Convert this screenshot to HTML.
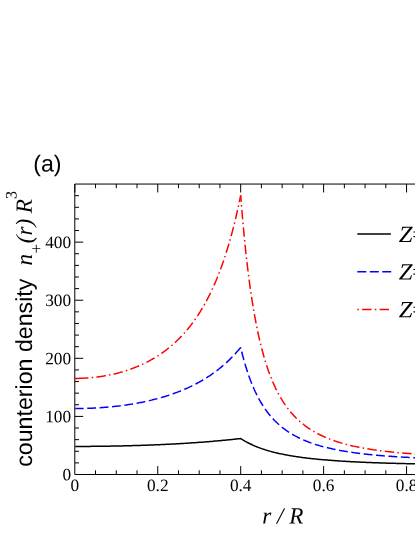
<!DOCTYPE html>
<html><head><meta charset="utf-8"><title>fig</title>
<style>
html,body{margin:0;padding:0;background:#fff;}
body{width:415px;height:537px;overflow:hidden;}
svg{display:block;will-change:transform;}
.se{font-family:"Liberation Serif",serif;}
.sa{font-family:"Liberation Sans",sans-serif;}
</style></head><body>
<svg width="415" height="537" viewBox="0 0 415 537">
<rect width="415" height="537" fill="#fff"/>
<!-- curves -->
<clipPath id="cp"><rect x="75.25" y="180" width="345" height="300"/></clipPath>
<g fill="none" stroke-width="1.5" stroke-linejoin="bevel" clip-path="url(#cp)">
<path d="M74.80,446.43 L75.84,446.43 L76.87,446.43 L77.91,446.43 L78.95,446.43 L79.98,446.43 L81.02,446.42 L82.06,446.42 L83.09,446.42 L84.13,446.41 L85.17,446.41 L86.20,446.40 L87.24,446.40 L88.28,446.39 L89.31,446.38 L90.35,446.38 L91.39,446.37 L92.42,446.36 L93.46,446.35 L94.50,446.34 L95.53,446.33 L96.57,446.32 L97.61,446.31 L98.65,446.30 L99.68,446.29 L100.72,446.27 L101.76,446.26 L102.79,446.25 L103.83,446.23 L104.87,446.22 L105.90,446.20 L106.94,446.19 L107.98,446.17 L109.01,446.16 L110.05,446.14 L111.09,446.12 L112.12,446.10 L113.16,446.08 L114.20,446.06 L115.23,446.04 L116.27,446.02 L117.31,446.00 L118.34,445.98 L119.38,445.96 L120.42,445.94 L121.45,445.91 L122.49,445.89 L123.53,445.86 L124.56,445.84 L125.60,445.81 L126.64,445.79 L127.67,445.76 L128.71,445.73 L129.75,445.71 L130.78,445.68 L131.82,445.65 L132.86,445.62 L133.89,445.59 L134.93,445.56 L135.97,445.53 L137.00,445.50 L138.04,445.46 L139.08,445.43 L140.12,445.40 L141.15,445.36 L142.19,445.33 L143.23,445.29 L144.26,445.26 L145.30,445.22 L146.34,445.18 L147.37,445.15 L148.41,445.11 L149.45,445.07 L150.48,445.03 L151.52,444.99 L152.56,444.95 L153.59,444.91 L154.63,444.86 L155.67,444.82 L156.70,444.78 L157.74,444.73 L158.78,444.69 L159.81,444.64 L160.85,444.60 L161.89,444.55 L162.92,444.50 L163.96,444.45 L165.00,444.41 L166.03,444.36 L167.07,444.31 L168.11,444.25 L169.14,444.20 L170.18,444.15 L171.22,444.10 L172.25,444.04 L173.29,443.99 L174.33,443.93 L175.36,443.88 L176.40,443.82 L177.44,443.76 L178.47,443.70 L179.51,443.64 L180.55,443.58 L181.59,443.52 L182.62,443.46 L183.66,443.40 L184.70,443.34 L185.73,443.27 L186.77,443.21 L187.81,443.14 L188.84,443.08 L189.88,443.01 L190.92,442.94 L191.95,442.87 L192.99,442.80 L194.03,442.73 L195.06,442.66 L196.10,442.59 L197.14,442.51 L198.17,442.44 L199.21,442.36 L200.25,442.29 L201.28,442.21 L202.32,442.13 L203.36,442.06 L204.39,441.98 L205.43,441.89 L206.47,441.81 L207.50,441.73 L208.54,441.65 L209.58,441.56 L210.61,441.48 L211.65,441.39 L212.69,441.30 L213.72,441.21 L214.76,441.12 L215.80,441.03 L216.83,440.94 L217.87,440.85 L218.91,440.75 L219.94,440.66 L220.98,440.56 L222.02,440.47 L223.06,440.37 L224.09,440.27 L225.13,440.17 L226.17,440.06 L227.20,439.96 L228.24,439.86 L229.28,439.75 L230.31,439.64 L231.35,439.54 L232.39,439.43 L233.42,439.32 L234.46,439.20 L235.50,439.09 L236.53,438.98 L237.57,438.86 L238.61,438.74 L239.64,438.63 L240.68,438.51 L241.72,439.18 L242.75,439.82 L243.79,440.45 L244.83,441.05 L245.86,441.64 L246.90,442.21 L247.94,442.75 L248.97,443.28 L250.01,443.80 L251.05,444.29 L252.08,444.78 L253.12,445.24 L254.16,445.69 L255.19,446.13 L256.23,446.56 L257.27,446.97 L258.30,447.37 L259.34,447.76 L260.38,448.14 L261.42,448.51 L262.45,448.87 L263.49,449.21 L264.53,449.55 L265.56,449.88 L266.60,450.20 L267.64,450.51 L268.67,450.81 L269.71,451.11 L270.75,451.39 L271.78,451.67 L272.82,451.94 L273.86,452.21 L274.89,452.47 L275.93,452.72 L276.97,452.96 L278.00,453.20 L279.04,453.44 L280.08,453.66 L281.11,453.88 L282.15,454.10 L283.19,454.31 L284.22,454.52 L285.26,454.72 L286.30,454.92 L287.33,455.11 L288.37,455.30 L289.41,455.48 L290.44,455.66 L291.48,455.84 L292.52,456.01 L293.55,456.17 L294.59,456.34 L295.63,456.50 L296.66,456.66 L297.70,456.81 L298.74,456.96 L299.77,457.11 L300.81,457.25 L301.85,457.39 L302.88,457.53 L303.92,457.66 L304.96,457.79 L306.00,457.92 L307.03,458.05 L308.07,458.17 L309.11,458.29 L310.14,458.41 L311.18,458.53 L312.22,458.64 L313.25,458.76 L314.29,458.87 L315.33,458.97 L316.36,459.08 L317.40,459.18 L318.44,459.28 L319.47,459.38 L320.51,459.48 L321.55,459.58 L322.58,459.67 L323.62,459.76 L324.66,459.85 L325.69,459.94 L326.73,460.03 L327.77,460.11 L328.80,460.20 L329.84,460.28 L330.88,460.36 L331.91,460.44 L332.95,460.52 L333.99,460.59 L335.02,460.67 L336.06,460.74 L337.10,460.81 L338.13,460.88 L339.17,460.95 L340.21,461.02 L341.24,461.09 L342.28,461.15 L343.32,461.22 L344.36,461.28 L345.39,461.34 L346.43,461.41 L347.47,461.47 L348.50,461.53 L349.54,461.58 L350.58,461.64 L351.61,461.70 L352.65,461.75 L353.69,461.81 L354.72,461.86 L355.76,461.91 L356.80,461.96 L357.83,462.01 L358.87,462.06 L359.91,462.11 L360.94,462.16 L361.98,462.21 L363.02,462.25 L364.05,462.30 L365.09,462.34 L366.13,462.39 L367.16,462.43 L368.20,462.47 L369.24,462.52 L370.27,462.56 L371.31,462.60 L372.35,462.64 L373.38,462.68 L374.42,462.72 L375.46,462.75 L376.49,462.79 L377.53,462.83 L378.57,462.86 L379.60,462.90 L380.64,462.93 L381.68,462.97 L382.71,463.00 L383.75,463.03 L384.79,463.07 L385.82,463.10 L386.86,463.13 L387.90,463.16 L388.94,463.19 L389.97,463.22 L391.01,463.25 L392.05,463.28 L393.08,463.30 L394.12,463.33 L395.16,463.36 L396.19,463.39 L397.23,463.41 L398.27,463.44 L399.30,463.46 L400.34,463.49 L401.38,463.51 L402.41,463.54 L403.45,463.56 L404.49,463.58 L405.52,463.61 L406.56,463.63 L407.60,463.65 L408.63,463.67 L409.67,463.69 L410.71,463.71 L411.74,463.73 L412.78,463.75 L413.82,463.77 L414.85,463.79 L415.89,463.81 L416.93,463.83 L417.96,463.85 L419.00,463.86 L420.04,463.88 L421.07,463.90 L422.11,463.91 L423.15,463.93" stroke="#000"/>
<path d="M74.80,408.55 L75.84,408.55 L76.87,408.54 L77.91,408.54 L78.95,408.53 L79.98,408.51 L81.02,408.50 L82.06,408.48 L83.09,408.46 L84.13,408.44 L85.17,408.41 L86.20,408.38 L87.24,408.35 L88.28,408.31 L89.31,408.27 L90.35,408.23 L91.39,408.19 L92.42,408.14 L93.46,408.09 L94.50,408.04 L95.53,407.98 L96.57,407.93 L97.61,407.87 L98.65,407.80 L99.68,407.73 L100.72,407.66 L101.76,407.59 L102.79,407.52 L103.83,407.44 L104.87,407.35 L105.90,407.27 L106.94,407.18 L107.98,407.09 L109.01,407.00 L110.05,406.90 L111.09,406.80 L112.12,406.69 L113.16,406.59 L114.20,406.48 L115.23,406.36 L116.27,406.25 L117.31,406.13 L118.34,406.00 L119.38,405.88 L120.42,405.75 L121.45,405.61 L122.49,405.48 L123.53,405.34 L124.56,405.19 L125.60,405.05 L126.64,404.90 L127.67,404.74 L128.71,404.58 L129.75,404.42 L130.78,404.26 L131.82,404.09 L132.86,403.91 L133.89,403.74 L134.93,403.56 L135.97,403.37 L137.00,403.18 L138.04,402.99 L139.08,402.80 L140.12,402.59 L141.15,402.39 L142.19,402.18 L143.23,401.97 L144.26,401.75 L145.30,401.53 L146.34,401.30 L147.37,401.07 L148.41,400.84 L149.45,400.60 L150.48,400.36 L151.52,400.11 L152.56,399.85 L153.59,399.59 L154.63,399.33 L155.67,399.06 L156.70,398.79 L157.74,398.51 L158.78,398.23 L159.81,397.94 L160.85,397.65 L161.89,397.35 L162.92,397.04 L163.96,396.73 L165.00,396.42 L166.03,396.09 L167.07,395.77 L168.11,395.43 L169.14,395.09 L170.18,394.75 L171.22,394.39 L172.25,394.04 L173.29,393.67 L174.33,393.30 L175.36,392.92 L176.40,392.54 L177.44,392.15 L178.47,391.75 L179.51,391.34 L180.55,390.93 L181.59,390.51 L182.62,390.08 L183.66,389.65 L184.70,389.20 L185.73,388.75 L186.77,388.29 L187.81,387.82 L188.84,387.35 L189.88,386.86 L190.92,386.37 L191.95,385.87 L192.99,385.36 L194.03,384.83 L195.06,384.30 L196.10,383.76 L197.14,383.22 L198.17,382.66 L199.21,382.09 L200.25,381.50 L201.28,380.91 L202.32,380.31 L203.36,379.70 L204.39,379.07 L205.43,378.44 L206.47,377.79 L207.50,377.13 L208.54,376.46 L209.58,375.77 L210.61,375.07 L211.65,374.36 L212.69,373.63 L213.72,372.89 L214.76,372.14 L215.80,371.37 L216.83,370.59 L217.87,369.79 L218.91,368.97 L219.94,368.14 L220.98,367.30 L222.02,366.43 L223.06,365.55 L224.09,364.65 L225.13,363.74 L226.17,362.80 L227.20,361.85 L228.24,360.87 L229.28,359.88 L230.31,358.86 L231.35,357.82 L232.39,356.77 L233.42,355.68 L234.46,354.58 L235.50,353.45 L236.53,352.30 L237.57,351.12 L238.61,349.92 L239.64,348.69 L240.68,347.44" stroke="#0000ff" stroke-dasharray="8.85 3.58"/>
<path d="M240.68,347.44 L241.72,351.72 L242.75,355.78 L243.79,359.63 L244.83,363.29 L245.86,366.77 L246.90,370.08 L247.94,373.22 L248.97,376.22 L250.01,379.08 L251.05,381.80 L252.08,384.40 L253.12,386.89 L254.16,389.26 L255.19,391.53 L256.23,393.70 L257.27,395.78 L258.30,397.77 L259.34,399.67 L260.38,401.50 L261.42,403.26 L262.45,404.94 L263.49,406.56 L264.53,408.12 L265.56,409.61 L266.60,411.05 L267.64,412.43 L268.67,413.76 L269.71,415.04 L270.75,416.28 L271.78,417.47 L272.82,418.61 L273.86,419.72 L274.89,420.79 L275.93,421.82 L276.97,422.82 L278.00,423.78 L279.04,424.71 L280.08,425.61 L281.11,426.48 L282.15,427.32 L283.19,428.14 L284.22,428.92 L285.26,429.69 L286.30,430.43 L287.33,431.14 L288.37,431.84 L289.41,432.51 L290.44,433.17 L291.48,433.80 L292.52,434.41 L293.55,435.01 L294.59,435.59 L295.63,436.15 L296.66,436.70 L297.70,437.23 L298.74,437.75 L299.77,438.25 L300.81,438.74 L301.85,439.21 L302.88,439.68 L303.92,440.13 L304.96,440.56 L306.00,440.99 L307.03,441.40 L308.07,441.81 L309.11,442.20 L310.14,442.58 L311.18,442.96 L312.22,443.32 L313.25,443.68 L314.29,444.02 L315.33,444.36 L316.36,444.69 L317.40,445.01 L318.44,445.32 L319.47,445.63 L320.51,445.93 L321.55,446.22 L322.58,446.50 L323.62,446.78 L324.66,447.05 L325.69,447.32 L326.73,447.57 L327.77,447.83 L328.80,448.07 L329.84,448.32 L330.88,448.55 L331.91,448.78 L332.95,449.01 L333.99,449.23 L335.02,449.45 L336.06,449.66 L337.10,449.86 L338.13,450.06 L339.17,450.26 L340.21,450.46 L341.24,450.64 L342.28,450.83 L343.32,451.01 L344.36,451.19 L345.39,451.36 L346.43,451.53 L347.47,451.70 L348.50,451.86 L349.54,452.02 L350.58,452.18 L351.61,452.33 L352.65,452.48 L353.69,452.63 L354.72,452.77 L355.76,452.91 L356.80,453.05 L357.83,453.19 L358.87,453.32 L359.91,453.45 L360.94,453.58 L361.98,453.70 L363.02,453.83 L364.05,453.95 L365.09,454.06 L366.13,454.18 L367.16,454.29 L368.20,454.40 L369.24,454.51 L370.27,454.62 L371.31,454.73 L372.35,454.83 L373.38,454.93 L374.42,455.03 L375.46,455.12 L376.49,455.22 L377.53,455.31 L378.57,455.40 L379.60,455.49 L380.64,455.58 L381.68,455.67 L382.71,455.75 L383.75,455.84 L384.79,455.92 L385.82,456.00 L386.86,456.08 L387.90,456.15 L388.94,456.23 L389.97,456.30 L391.01,456.37 L392.05,456.45 L393.08,456.52 L394.12,456.58 L395.16,456.65 L396.19,456.72 L397.23,456.78 L398.27,456.84 L399.30,456.91 L400.34,456.97 L401.38,457.03 L402.41,457.09 L403.45,457.14 L404.49,457.20 L405.52,457.26 L406.56,457.31 L407.60,457.36 L408.63,457.41 L409.67,457.46 L410.71,457.51 L411.74,457.56 L412.78,457.61 L413.82,457.66 L414.85,457.70 L415.89,457.75 L416.93,457.79 L417.96,457.84 L419.00,457.88 L420.04,457.92 L421.07,457.96 L422.11,458.00 L423.15,458.04" stroke="#0000ff" stroke-dasharray="8.85 3.6" stroke-dashoffset="8.2"/>
<path d="M74.80,378.39 L75.84,378.38 L76.87,378.37 L77.91,378.36 L78.95,378.34 L79.98,378.31 L81.02,378.28 L82.06,378.24 L83.09,378.20 L84.13,378.14 L85.17,378.09 L86.20,378.03 L87.24,377.96 L88.28,377.88 L89.31,377.80 L90.35,377.71 L91.39,377.62 L92.42,377.52 L93.46,377.42 L94.50,377.30 L95.53,377.18 L96.57,377.06 L97.61,376.93 L98.65,376.79 L99.68,376.65 L100.72,376.50 L101.76,376.34 L102.79,376.18 L103.83,376.01 L104.87,375.83 L105.90,375.65 L106.94,375.46 L107.98,375.26 L109.01,375.06 L110.05,374.85 L111.09,374.63 L112.12,374.41 L113.16,374.17 L114.20,373.93 L115.23,373.69 L116.27,373.43 L117.31,373.17 L118.34,372.90 L119.38,372.63 L120.42,372.34 L121.45,372.05 L122.49,371.75 L123.53,371.44 L124.56,371.13 L125.60,370.80 L126.64,370.47 L127.67,370.13 L128.71,369.78 L129.75,369.42 L130.78,369.05 L131.82,368.67 L132.86,368.29 L133.89,367.89 L134.93,367.49 L135.97,367.07 L137.00,366.65 L138.04,366.21 L139.08,365.77 L140.12,365.32 L141.15,364.85 L142.19,364.38 L143.23,363.89 L144.26,363.39 L145.30,362.89 L146.34,362.37 L147.37,361.84 L148.41,361.29 L149.45,360.74 L150.48,360.17 L151.52,359.60 L152.56,359.00 L153.59,358.40 L154.63,357.78 L155.67,357.15 L156.70,356.51 L157.74,355.85 L158.78,355.17 L159.81,354.49 L160.85,353.78 L161.89,353.07 L162.92,352.33 L163.96,351.59 L165.00,350.82 L166.03,350.04 L167.07,349.24 L168.11,348.42 L169.14,347.59 L170.18,346.74 L171.22,345.87 L172.25,344.98 L173.29,344.07 L174.33,343.14 L175.36,342.19 L176.40,341.22 L177.44,340.23 L178.47,339.21 L179.51,338.17 L180.55,337.11 L181.59,336.03 L182.62,334.92 L183.66,333.79 L184.70,332.63 L185.73,331.45 L186.77,330.23 L187.81,328.99 L188.84,327.72 L189.88,326.42 L190.92,325.10 L191.95,323.74 L192.99,322.34 L194.03,320.92 L195.06,319.46 L196.10,317.96 L197.14,316.43 L198.17,314.87 L199.21,313.26 L200.25,311.62 L201.28,309.93 L202.32,308.20 L203.36,306.43 L204.39,304.61 L205.43,302.75 L206.47,300.84 L207.50,298.88 L208.54,296.87 L209.58,294.81 L210.61,292.69 L211.65,290.52 L212.69,288.28 L213.72,285.99 L214.76,283.64 L215.80,281.22 L216.83,278.73 L217.87,276.17 L218.91,273.54 L219.94,270.84 L220.98,268.06 L222.02,265.19 L223.06,262.25 L224.09,259.21 L225.13,256.09 L226.17,252.87 L227.20,249.55 L228.24,246.13 L229.28,242.60 L230.31,238.97 L231.35,235.21 L232.39,231.34 L233.42,227.34 L234.46,223.20 L235.50,218.93 L236.53,214.52 L237.57,209.96 L238.61,205.23 L239.64,200.35 L240.68,195.29" stroke="#ff0000" stroke-dasharray="1.5 3.27 9.39 3.27" stroke-dashoffset="0.5"/>
<path d="M240.68,195.29 L241.72,208.36 L242.75,220.53 L243.79,231.89 L244.83,242.51 L245.86,252.44 L246.90,261.75 L247.94,270.47 L248.97,278.67 L250.01,286.37 L251.05,293.62 L252.08,300.45 L253.12,306.89 L254.16,312.97 L255.19,318.72 L256.23,324.15 L257.27,329.30 L258.30,334.17 L259.34,338.79 L260.38,343.18 L261.42,347.34 L262.45,351.30 L263.49,355.07 L264.53,358.65 L265.56,362.07 L266.60,365.33 L267.64,368.43 L268.67,371.40 L269.71,374.23 L270.75,376.93 L271.78,379.52 L272.82,382.00 L273.86,384.37 L274.89,386.64 L275.93,388.82 L276.97,390.91 L278.00,392.91 L279.04,394.84 L280.08,396.68 L281.11,398.46 L282.15,400.17 L283.19,401.81 L284.22,403.39 L285.26,404.91 L286.30,406.37 L287.33,407.78 L288.37,409.15 L289.41,410.46 L290.44,411.72 L291.48,412.94 L292.52,414.12 L293.55,415.26 L294.59,416.36 L295.63,417.43 L296.66,418.46 L297.70,419.45 L298.74,420.41 L299.77,421.34 L300.81,422.24 L301.85,423.12 L302.88,423.96 L303.92,424.78 L304.96,425.58 L306.00,426.35 L307.03,427.09 L308.07,427.82 L309.11,428.52 L310.14,429.21 L311.18,429.87 L312.22,430.51 L313.25,431.14 L314.29,431.74 L315.33,432.33 L316.36,432.91 L317.40,433.47 L318.44,434.01 L319.47,434.54 L320.51,435.05 L321.55,435.55 L322.58,436.04 L323.62,436.51 L324.66,436.97 L325.69,437.42 L326.73,437.86 L327.77,438.28 L328.80,438.70 L329.84,439.10 L330.88,439.50 L331.91,439.88 L332.95,440.26 L333.99,440.62 L335.02,440.98 L336.06,441.33 L337.10,441.67 L338.13,442.00 L339.17,442.32 L340.21,442.64 L341.24,442.95 L342.28,443.25 L343.32,443.55 L344.36,443.83 L345.39,444.11 L346.43,444.39 L347.47,444.66 L348.50,444.92 L349.54,445.17 L350.58,445.43 L351.61,445.67 L352.65,445.91 L353.69,446.14 L354.72,446.37 L355.76,446.60 L356.80,446.82 L357.83,447.03 L358.87,447.24 L359.91,447.44 L360.94,447.64 L361.98,447.84 L363.02,448.03 L364.05,448.22 L365.09,448.41 L366.13,448.59 L367.16,448.76 L368.20,448.93 L369.24,449.10 L370.27,449.27 L371.31,449.43 L372.35,449.59 L373.38,449.75 L374.42,449.90 L375.46,450.05 L376.49,450.19 L377.53,450.34 L378.57,450.48 L379.60,450.61 L380.64,450.75 L381.68,450.88 L382.71,451.01 L383.75,451.14 L384.79,451.26 L385.82,451.38 L386.86,451.50 L387.90,451.62 L388.94,451.73 L389.97,451.84 L391.01,451.95 L392.05,452.06 L393.08,452.16 L394.12,452.27 L395.16,452.37 L396.19,452.47 L397.23,452.56 L398.27,452.66 L399.30,452.75 L400.34,452.84 L401.38,452.93 L402.41,453.02 L403.45,453.11 L404.49,453.19 L405.52,453.27 L406.56,453.35 L407.60,453.43 L408.63,453.51 L409.67,453.58 L410.71,453.66 L411.74,453.73 L412.78,453.80 L413.82,453.87 L414.85,453.94 L415.89,454.01 L416.93,454.07 L417.96,454.13 L419.00,454.20 L420.04,454.26 L421.07,454.32 L422.11,454.38 L423.15,454.43" stroke="#ff0000" stroke-dasharray="1.5 3.3 9.4 3.3" stroke-dashoffset="7.6"/>
<path d="M74.8,378.39h4.6" stroke="#ff0000"/>
</g>
<!-- frame -->
<g fill="none" stroke="#000" stroke-width="1.0">
<path d="M416,184.05H74.8V474.5H416"/>
<path d="M74.80,184.05v8.40M95.53,474.50v-4.20M95.53,184.05v4.20M116.27,474.50v-4.20M116.27,184.05v4.20M137.00,474.50v-4.20M137.00,184.05v4.20M157.74,474.50v-8.40M157.74,184.05v8.40M178.47,474.50v-4.20M178.47,184.05v4.20M199.21,474.50v-4.20M199.21,184.05v4.20M219.94,474.50v-4.20M219.94,184.05v4.20M240.68,474.50v-8.40M240.68,184.05v8.40M261.42,474.50v-4.20M261.42,184.05v4.20M282.15,474.50v-4.20M282.15,184.05v4.20M302.88,474.50v-4.20M302.88,184.05v4.20M323.62,474.50v-8.40M323.62,184.05v8.40M344.36,474.50v-4.20M344.36,184.05v4.20M365.09,474.50v-4.20M365.09,184.05v4.20M385.82,474.50v-4.20M385.82,184.05v4.20M406.56,474.50v-8.40M406.56,184.05v8.40M74.80,462.88h4.20M74.80,451.26h4.20M74.80,439.65h4.20M74.80,428.03h4.20M74.80,416.41h8.40M74.80,404.79h4.20M74.80,393.17h4.20M74.80,381.56h4.20M74.80,369.94h4.20M74.80,358.32h8.40M74.80,346.70h4.20M74.80,335.08h4.20M74.80,323.47h4.20M74.80,311.85h4.20M74.80,300.23h8.40M74.80,288.61h4.20M74.80,276.99h4.20M74.80,265.38h4.20M74.80,253.76h4.20M74.80,242.14h8.40M74.80,230.52h4.20M74.80,218.90h4.20M74.80,207.29h4.20M74.80,195.67h4.20"/>
</g>
<g>
<!-- tick labels -->
<g class="se" font-size="17.3" fill="#000"><text x="74.80" y="491" text-anchor="middle" transform="rotate(0.03 74.80 491)">0</text><text x="157.74" y="491" text-anchor="middle" transform="rotate(0.03 157.74 491)">0.2</text><text x="240.68" y="491" text-anchor="middle" transform="rotate(0.03 240.68 491)">0.4</text><text x="323.62" y="491" text-anchor="middle" transform="rotate(0.03 323.62 491)">0.6</text><text x="406.56" y="491" text-anchor="middle" transform="rotate(0.03 406.56 491)">0.8</text><text x="71.1" y="480.35" text-anchor="end" transform="rotate(0.03 71.1 480.35)">0</text><text x="71.1" y="422.26" text-anchor="end" transform="rotate(0.03 71.1 422.26)">100</text><text x="71.1" y="364.17" text-anchor="end" transform="rotate(0.03 71.1 364.17)">200</text><text x="71.1" y="306.08" text-anchor="end" transform="rotate(0.03 71.1 306.08)">300</text><text x="71.1" y="247.99" text-anchor="end" transform="rotate(0.03 71.1 247.99)">400</text></g>
<!-- legend -->
<g fill="none" stroke-width="1.5">
<path d="M357.3,234.1H390.9" stroke="#000"/>
<path d="M357.3,271.7H391.2" stroke="#0000ff" stroke-dasharray="9 3.5"/>
<path d="M357.3,309.5H389" stroke="#ff0000" stroke-dasharray="1.5 3.3 9.4 3.3"/>
</g>
<g class="se" font-size="23.2" font-style="italic" fill="#000">
<text transform="translate(398.7,241.9) rotate(0.03) scale(1.07,1)">Z</text><text x="412.3" y="241.9" font-style="normal" transform="rotate(0.03 412.3 241.9)">=</text>
<text transform="translate(398.7,279.6) rotate(0.03) scale(1.07,1)">Z</text><text x="412.3" y="279.6" font-style="normal" transform="rotate(0.03 412.3 279.6)">=</text>
<text transform="translate(398.7,317.3) rotate(0.03) scale(1.07,1)">Z</text><text x="412.3" y="317.3" font-style="normal" transform="rotate(0.03 412.3 317.3)">=</text>
</g>
<!-- panel label -->
<text class="sa" x="33.2" y="171.6" font-size="23.2" fill="#000" transform="rotate(0.03 33.2 171.6)">(a)</text>
<!-- x label -->
<text class="se" x="282.9" y="523.4" font-size="23.2" font-style="italic" text-anchor="middle" fill="#000" transform="rotate(0.03 282.9 523.4)">r / R</text>
<!-- y label -->
<g transform="translate(32,466.8) rotate(-90.03)" fill="#000">
<text class="sa" x="0" y="0" font-size="23.2">counterion density</text>
<g class="se" font-style="italic" font-size="23.2">
<text x="201.4" y="0">n</text>
<text x="213.2" y="10.0" font-size="17.2" font-style="normal">+</text>
<text x="223.5" y="0">(</text>
<text x="231.2" y="0">r</text>
<text x="240.2" y="0">)</text>
<text x="253.5" y="0">R</text>
<text x="267.9" y="-15.3" font-size="16" font-style="normal">3</text>
</g>
</g>
</g>
</svg>
</body></html>
